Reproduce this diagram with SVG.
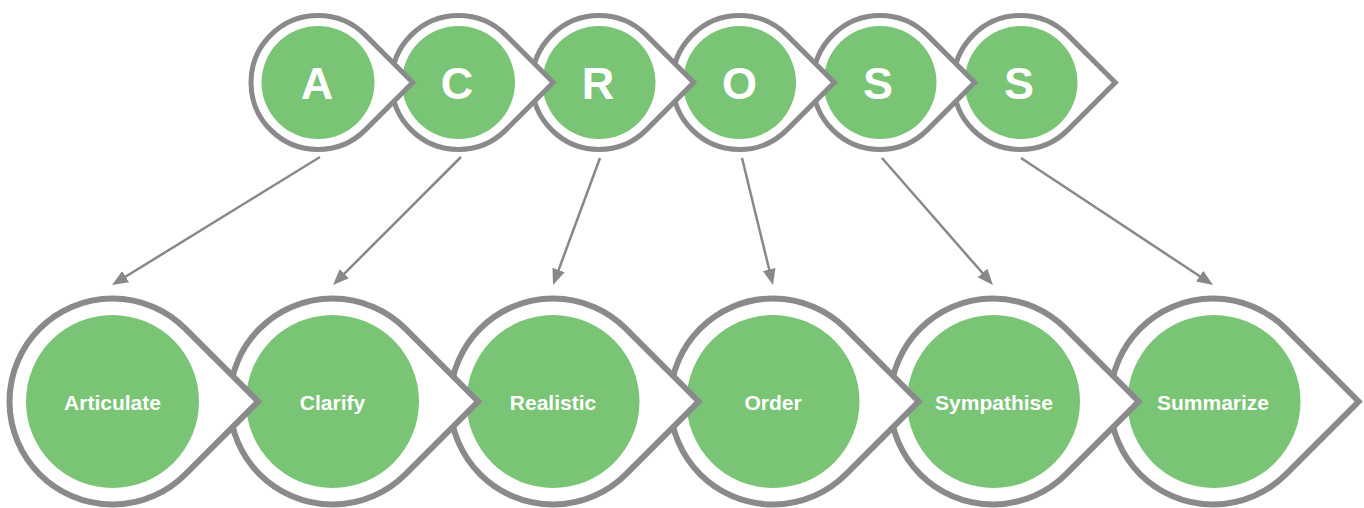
<svg xmlns="http://www.w3.org/2000/svg" xmlns:xlink="http://www.w3.org/1999/xlink" width="1364" height="508" viewBox="0 0 1364 508">
  <style>
    .ring { fill: #ffffff; stroke: #8a8a8d; stroke-linejoin: miter; stroke-miterlimit: 10; }
    .ring-top { stroke-width: 5; }
    .ring-bot { stroke-width: 6; }
    .core { fill: #79c475; }
    .letter { font-family: "Liberation Sans", Arial, Helvetica, sans-serif; font-weight: bold; fill: #ffffff; font-size: 45px; text-anchor: middle; }
    .label { font-family: "Liberation Sans", Arial, Helvetica, sans-serif; font-weight: bold; fill: #ffffff; font-size: 21px; text-anchor: middle; }
    .arrow { stroke: #88888b; stroke-width: 2.5; fill: none; marker-end: url(#head); }
  </style>
  <defs>
    <path id="dropTop" d="M94.75,0 L47.38,-47.38 A67,67 0 1 0 47.38,47.38 Z"/>
    <path id="dropBot" d="M145.66,0 L72.83,-72.83 A103,103 0 1 0 72.83,72.83 Z"/>
    <marker id="head" markerUnits="userSpaceOnUse" markerWidth="17" markerHeight="14" refX="6" refY="6.5" orient="auto">
      <path d="M0,0 L16,6.5 L0,13 Z" fill="#88888b"/>
    </marker>
  </defs>

  <!-- top row (drawn right to left so earlier tips overlap later nodes) -->
  <g id="top-s2">
    <use xlink:href="#dropTop" class="ring ring-top" x="1020.5" y="82.5"/>
    <circle class="core" cx="1021" cy="82.5" r="56.5"/>
    <text class="letter" x="1019" y="98.5">S</text>
  </g>
  <g id="top-s1">
    <use xlink:href="#dropTop" class="ring ring-top" x="880" y="82.5"/>
    <circle class="core" cx="880" cy="82.5" r="56.5"/>
    <text class="letter" x="878" y="98.5">S</text>
  </g>
  <g id="top-o">
    <use xlink:href="#dropTop" class="ring ring-top" x="739.5" y="82.5"/>
    <circle class="core" cx="739.5" cy="82.5" r="56.5"/>
    <text class="letter" x="739.5" y="98.5">O</text>
  </g>
  <g id="top-r">
    <use xlink:href="#dropTop" class="ring ring-top" x="599" y="82.5"/>
    <circle class="core" cx="599" cy="82.5" r="56.5"/>
    <text class="letter" x="598" y="98.5">R</text>
  </g>
  <g id="top-c">
    <use xlink:href="#dropTop" class="ring ring-top" x="458.5" y="82.5"/>
    <circle class="core" cx="458.5" cy="82.5" r="56.5"/>
    <text class="letter" x="457" y="98.5">C</text>
  </g>
  <g id="top-a">
    <use xlink:href="#dropTop" class="ring ring-top" x="318" y="82.5"/>
    <circle class="core" cx="318" cy="82.5" r="56.5"/>
    <text class="letter" x="317" y="98.5">A</text>
  </g>

  <!-- bottom row -->
  <g id="bot-summarize">
    <use xlink:href="#dropBot" class="ring ring-bot" x="1213" y="401.5"/>
    <circle class="core" cx="1214" cy="401.5" r="86.5"/>
    <text class="label" x="1213" y="409.5">Summarize</text>
  </g>
  <g id="bot-sympathise">
    <use xlink:href="#dropBot" class="ring ring-bot" x="993" y="401.5"/>
    <circle class="core" cx="993.5" cy="401.5" r="86.5"/>
    <text class="label" x="994" y="409.5">Sympathise</text>
  </g>
  <g id="bot-order">
    <use xlink:href="#dropBot" class="ring ring-bot" x="773" y="401.5"/>
    <circle class="core" cx="773" cy="401.5" r="86.5"/>
    <text class="label" x="773" y="409.5">Order</text>
  </g>
  <g id="bot-realistic">
    <use xlink:href="#dropBot" class="ring ring-bot" x="553" y="401.5"/>
    <circle class="core" cx="553" cy="401.5" r="86.5"/>
    <text class="label" x="553" y="409.5">Realistic</text>
  </g>
  <g id="bot-clarify">
    <use xlink:href="#dropBot" class="ring ring-bot" x="332.5" y="401.5"/>
    <circle class="core" cx="332.5" cy="401.5" r="86.5"/>
    <text class="label" x="332.5" y="409.5">Clarify</text>
  </g>
  <g id="bot-articulate">
    <use xlink:href="#dropBot" class="ring ring-bot" x="112.5" y="401.5"/>
    <circle class="core" cx="112.5" cy="401.5" r="86.5"/>
    <text class="label" x="112.5" y="409.5">Articulate</text>
  </g>

  <!-- connectors -->
  <g id="connectors">
    <line class="arrow" x1="320" y1="157" x2="120.5" y2="279.8"/>
    <line class="arrow" x1="461" y1="157" x2="340.1" y2="277.9"/>
    <line class="arrow" x1="600" y1="158" x2="556.5" y2="275.6"/>
    <line class="arrow" x1="742" y1="158" x2="770.6" y2="275.3"/>
    <line class="arrow" x1="882" y1="158" x2="986.4" y2="277.5"/>
    <line class="arrow" x1="1021" y1="158" x2="1204.7" y2="279.5"/>
  </g>
</svg>
